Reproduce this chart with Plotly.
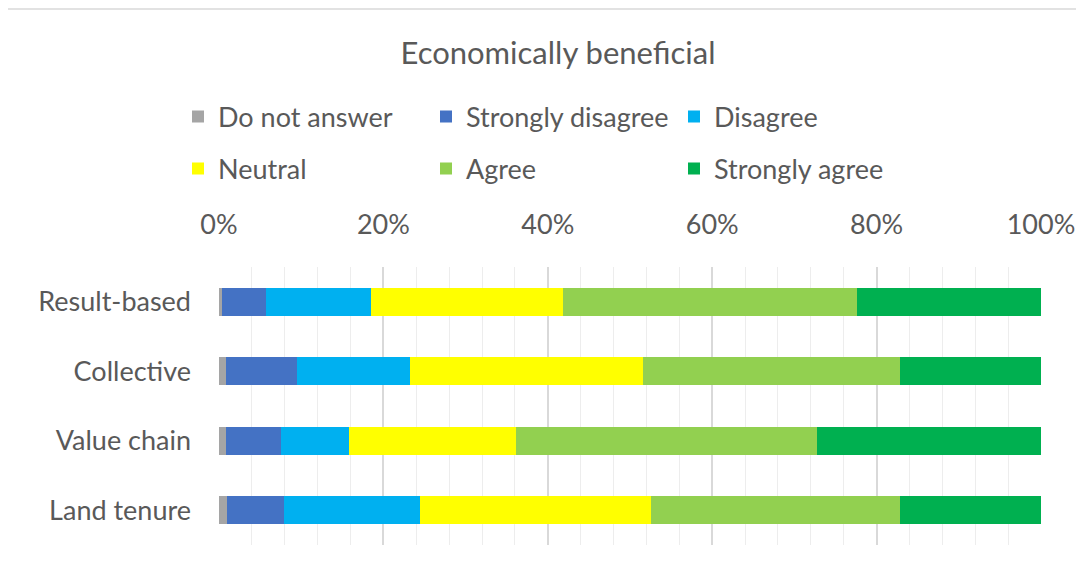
import plotly.graph_objects as go

# Datos (fracción de respuestas)
CATEGORIES = ["Result-based", "Collective", "Value chain", "Land tenure"]

SERIES = [
    "Do not answer",
    "Strongly disagree",
    "Disagree",
    "Neutral",
    "Agree",
    "Strongly agree",
]

DO_NOT_ANSWER = [0.004, 0.008, 0.008, 0.010]
STRONGLY_DISAGREE = [0.053, 0.087, 0.068, 0.069]
DISAGREE = [0.128, 0.137, 0.082, 0.165]
NEUTRAL = [0.234, 0.284, 0.203, 0.282]
AGREE = [0.357, 0.313, 0.366, 0.303]
STRONGLY_AGREE = [0.224, 0.171, 0.274, 0.171]

COLORS = ["#A5A5A5", "#4472C4", "#00B0F0", "#FFFF00", "#92D050", "#00B050"]

VALUES = [DO_NOT_ANSWER, STRONGLY_DISAGREE, DISAGREE, NEUTRAL, AGREE, STRONGLY_AGREE]

FONT = "Lato"
TEXT_COLOR = "#595959"

W, H = 1084, 569
OFF = 8  # margen del <body> en la página

fig = go.Figure()
for i, (name, vals, color) in enumerate(zip(SERIES, VALUES, COLORS)):
    fig.add_trace(go.Bar(
        name=name,
        y=CATEGORIES,
        x=vals,
        orientation="h",
        marker_color=color,
        marker_line_width=0,
        legend="legend" if i < 3 else "legend2",
        hovertemplate="%{y}: %{x:.1%}<extra>" + name + "</extra>",
    ))

legend_common = dict(
    orientation="h",
    traceorder="normal",
    xref="container",
    yref="container",
    xanchor="left",
    yanchor="middle",
    font=dict(family=FONT, size=27, color=TEXT_COLOR),
    entrywidth=203,
    entrywidthmode="pixels",
    bgcolor="rgba(0,0,0,0)",
    itemclick=False,
)

plot_top = 267 - OFF
plot_bottom = 545 - OFF
plot_h = plot_bottom - plot_top

fig.update_layout(
    width=W,
    height=H,
    barmode="stack",
    bargap=0.6,
    plot_bgcolor="white",
    paper_bgcolor="white",
    margin=dict(l=219 - OFF, r=W - (1041 - OFF), t=plot_top, b=H - plot_bottom, autoexpand=False),
    title=dict(
        text="Economically beneficial",
        x=(558 - OFF) / W,
        xanchor="center",
        y=1 - (53 - OFF) / H,
        yanchor="middle",
        font=dict(family=FONT, size=31, color=TEXT_COLOR),
    ),
    legend=dict(x=(178 - OFF) / W, y=1 - (117 - OFF) / H, **legend_common),
    legend2=dict(x=(178 - OFF) / W, y=1 - (169 - OFF) / H, **legend_common),
    xaxis=dict(
        side="top",
        range=[0, 1],
        dtick=0.2,
        tickformat=".0%",
        tickfont=dict(family=FONT, size=27, color=TEXT_COLOR),
        ticklabelstandoff=27,
        showgrid=True,
        gridcolor="#D9D9D9",
        gridwidth=1.5,
        minor=dict(dtick=0.04, showgrid=True, gridcolor="#EDEDED", gridwidth=1),
        zeroline=False,
        showline=False,
        fixedrange=True,
    ),
    yaxis=dict(
        autorange="reversed",
        tickfont=dict(family=FONT, size=27, color=TEXT_COLOR),
        ticklabelstandoff=27,
        showgrid=False,
        showline=False,
        fixedrange=True,
    ),
    shapes=[
        # marco superior del gráfico (recortado en la captura)
        dict(type="line", xref="paper", yref="paper", x0=-0.5, x1=1.1,
             y0=1 + (plot_top - (9 - OFF)) / plot_h, y1=1 + (plot_top - (9 - OFF)) / plot_h,
             line=dict(color="#D9D9D9", width=1.5)),
    ],
)

fig.write_html("out.html")
